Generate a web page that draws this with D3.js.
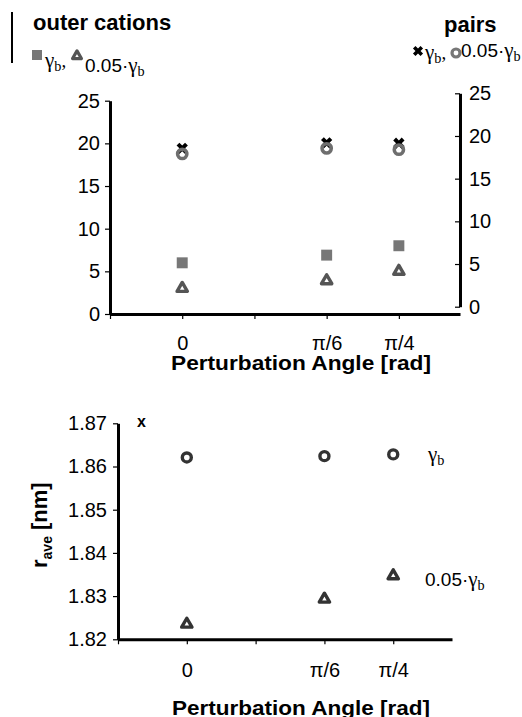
<!DOCTYPE html>
<html>
<head>
<meta charset="utf-8">
<script src="https://cdn.jsdelivr.net/npm/d3@7"></script>
<style>
  body { margin: 0; background: #fff; }
  svg { display: block; font-family: "Liberation Sans", Arial, sans-serif; }
</style>
</head>
<body>
<script>
// categories: perturbation angle in radians
var angles = [0, Math.PI / 6, Math.PI / 4];
var angleLabels = ["0", "\u03c0/6", "\u03c0/4"];
var tickAngles = [-Math.PI / 12, 0, Math.PI / 12, Math.PI / 6, Math.PI / 4];

// top panel, left axis: outer cations
var cationsGb = [6.0, 6.9, 8.0];
var cations005 = [3.0, 3.9, 5.0];
// top panel, right axis: pairs
var pairsGb = [18.55, 19.2, 19.15];
var pairs005 = [17.9, 18.55, 18.4];
var topTicks = [0, 5, 10, 15, 20, 25];

// bottom panel: r_ave [nm]
var rGb = [1.8621, 1.8624, 1.8628];
var r005 = [1.8235, 1.8293, 1.8347];
var rTicks = [1.82, 1.83, 1.84, 1.85, 1.86, 1.87];

var W = 522, H = 717;
var svg = d3.select("body").append("svg").attr("width", W).attr("height", H);

function zip(xs, ys) {
    return xs.map(function(d, i) { return {x: d, y: ys[i]}; });
}

function styleAxis(g, fs) {
    g.select(".domain").attr("stroke", "#000").attr("stroke-width", 3);
    g.selectAll(".tick line").attr("stroke", "#000").attr("stroke-width", 1.2);
    g.selectAll(".tick text").attr("fill", "#000").style("font-size", fs + "px");
}

var angleFmt = function(d) {
    var i = angles.findIndex(function(a) { return Math.abs(a - d) < 1e-9; });
    return i < 0 ? "" : angleLabels[i];
};

// ---------- top panel ----------
var xTop = d3.scaleLinear().domain([-Math.PI / 12, 1.007]).range([110, 460]);
var yTopL = d3.scaleLinear().domain([0, 25]).range([314, 100.7]);
var yTopR = d3.scaleLinear().domain([0, 25]).range([306.7, 93.3]);

svg.append("g").attr("transform", "translate(0,314)")
    .call(d3.axisBottom(xTop).tickValues(tickAngles).tickSize(5).tickSizeOuter(0)
        .tickPadding(17).tickFormat(angleFmt))
    .call(styleAxis, 20);

svg.append("g").attr("transform", "translate(110,0)")
    .call(d3.axisLeft(yTopL).tickValues(topTicks).tickSize(5).tickSizeOuter(0).tickPadding(5))
    .call(styleAxis, 20);

svg.append("g").attr("transform", "translate(460,0)")
    .call(d3.axisRight(yTopR).tickValues(topTicks).tickSize(-5).tickSizeOuter(0).tickPadding(9))
    .call(styleAxis, 20);

var tri = d3.symbol().type(d3.symbolTriangle).size(46);
var sq = d3.symbol().type(d3.symbolSquare).size(120);
var cross = d3.symbol().type(d3.symbolCross).size(80);

// outer cations
svg.append("g").selectAll("path").data(zip(angles, cationsGb)).enter().append("path")
    .attr("d", sq)
    .attr("transform", function(d) { return "translate(" + xTop(d.x) + "," + yTopL(d.y) + ")"; })
    .attr("fill", "#777");
svg.append("g").selectAll("path").data(zip(angles, cations005)).enter().append("path")
    .attr("d", tri)
    .attr("transform", function(d) { return "translate(" + xTop(d.x) + "," + yTopL(d.y) + ")"; })
    .attr("fill", "#fff").attr("stroke", "#555").attr("stroke-width", 3.4).attr("stroke-linejoin", "round");

// pairs
svg.append("g").selectAll("path").data(zip(angles, pairsGb)).enter().append("path")
    .attr("d", cross)
    .attr("transform", function(d) { return "translate(" + xTop(d.x) + "," + yTopR(d.y) + ") rotate(45)"; })
    .attr("fill", "#000");
svg.append("g").selectAll("circle").data(zip(angles, pairs005)).enter().append("circle")
    .attr("cx", function(d) { return xTop(d.x); })
    .attr("cy", function(d) { return yTopR(d.y); })
    .attr("r", 4.6)
    .attr("fill", "none").attr("stroke", "#6e6e6e").attr("stroke-width", 3.6);

svg.append("text").attr("x", 301).attr("y", 370).attr("text-anchor", "middle")
    .attr("textLength", 260).attr("lengthAdjust", "spacingAndGlyphs")
    .style("font-size", "20px").style("font-weight", "bold")
    .text("Perturbation Angle [rad]");

// headers + legends
svg.append("line").attr("x1", 12).attr("x2", 12).attr("y1", 12).attr("y2", 63)
    .attr("stroke", "#000").attr("stroke-width", 2);
svg.append("text").attr("x", 33).attr("y", 30).style("font-size", "22px").style("font-weight", "bold")
    .text("outer cations");
svg.append("text").attr("x", 444).attr("y", 32).style("font-size", "22px").style("font-weight", "bold")
    .text("pairs");

function gammaText(x, y, fs, prefix, suffix) {
    var t = svg.append("text").attr("x", x).attr("y", y).style("font-size", fs + "px");
    if (prefix) t.append("tspan").text(prefix);
    t.append("tspan").style("font-family", "'Liberation Serif', serif").style("font-size", (fs + 2) + "px")
        .text("\u03b3");
    t.append("tspan").attr("dy", 4).style("font-family", "'Liberation Serif', serif")
        .style("font-size", (fs * 0.75) + "px").text("b");
    if (suffix) t.append("tspan").attr("dy", -4).style("font-family", "'Liberation Serif', serif").text(suffix);
    return t;
}

svg.append("path").attr("d", d3.symbol().type(d3.symbolSquare).size(100))
    .attr("transform", "translate(37,55)").attr("fill", "#777");
gammaText(45, 67, 19, null, ",");
svg.append("path").attr("d", d3.symbol().type(d3.symbolTriangle).size(34))
    .attr("transform", "translate(77,56)").attr("fill", "#fff").attr("stroke", "#555")
    .attr("stroke-width", 3.2).attr("stroke-linejoin", "round");
gammaText(85, 72, 19, "0.05\u00b7", null);

svg.append("path").attr("d", d3.symbol().type(d3.symbolCross).size(64))
    .attr("transform", "translate(418,51) rotate(45)").attr("fill", "#000");
gammaText(425, 59, 19, null, ",");
svg.append("circle").attr("cx", 456).attr("cy", 53).attr("r", 4)
    .attr("fill", "none").attr("stroke", "#777").attr("stroke-width", 3.2);
gammaText(461, 57, 19, "0.05\u00b7", null);

// ---------- bottom panel ----------
var xBot = d3.scaleLinear().domain([-Math.PI / 12, 1.009]).range([118, 452]);
var yBot = d3.scaleLinear().domain([1.82, 1.87]).range([639.3, 423.3]);

svg.append("g").attr("transform", "translate(0,639.3)")
    .call(d3.axisBottom(xBot).tickValues(tickAngles).tickSize(5).tickSizeOuter(0)
        .tickPadding(19).tickFormat(angleFmt))
    .call(styleAxis, 20);

svg.append("g").attr("transform", "translate(118,0)")
    .call(d3.axisLeft(yBot).tickValues(rTicks).tickSize(5).tickSizeOuter(0).tickPadding(6)
        .tickFormat(d3.format(".2f")))
    .call(styleAxis, 20);

svg.append("g").selectAll("circle").data(zip(angles, rGb)).enter().append("circle")
    .attr("cx", function(d) { return xBot(d.x); })
    .attr("cy", function(d) { return yBot(d.y); })
    .attr("r", 4.5)
    .attr("fill", "none").attr("stroke", "#333").attr("stroke-width", 3.4);
svg.append("g").selectAll("path").data(zip(angles, r005)).enter().append("path")
    .attr("d", tri)
    .attr("transform", function(d) { return "translate(" + xBot(d.x) + "," + yBot(d.y) + ")"; })
    .attr("fill", "#fff").attr("stroke", "#333").attr("stroke-width", 3.4).attr("stroke-linejoin", "round");

svg.append("text").attr("x", 137).attr("y", 427).style("font-size", "16px").style("font-weight", "bold")
    .text("x");

gammaText(428, 461, 19, null, null);
gammaText(425, 586, 19, "0.05\u00b7", null);

var yl = svg.append("text").attr("transform", "translate(47,568) rotate(-90)")
    .style("font-size", "22px").style("font-weight", "bold");
yl.append("tspan").text("r");
yl.append("tspan").attr("dy", 5).style("font-size", "14px").text("ave");
yl.append("tspan").attr("dy", -5).text(" [nm]");

svg.append("text").attr("x", 301).attr("y", 714.5).attr("text-anchor", "middle")
    .attr("textLength", 258).attr("lengthAdjust", "spacingAndGlyphs")
    .style("font-size", "20px").style("font-weight", "bold")
    .text("Perturbation Angle [rad]");
</script>
</body>
</html>
